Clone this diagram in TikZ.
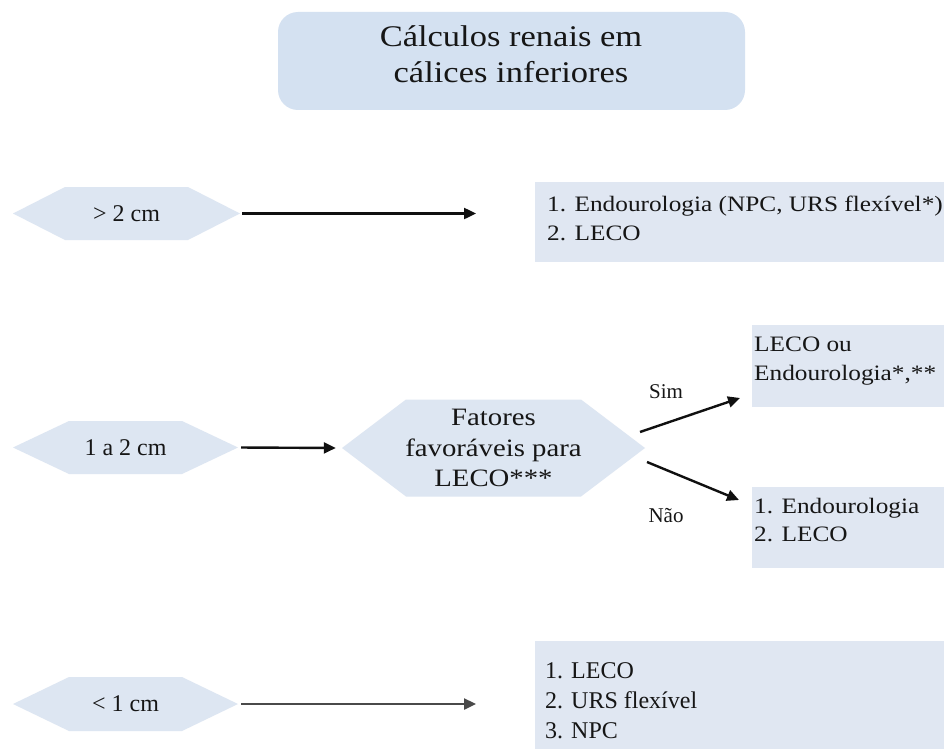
\documentclass[tikz,border=0pt]{standalone}
\usepackage{fontspec}
\setmainfont{Liberation Serif}
\newfontfamily\wideserif[FakeStretch=1.15]{Liberation Serif}
\usetikzlibrary{arrows.meta}
\definecolor{titlefill}{HTML}{D4E1F1}
\definecolor{hexfill}{HTML}{DDE6F2}
\definecolor{boxfill}{HTML}{E0E7F2}
\definecolor{txtc}{HTML}{161616}
\definecolor{arrc}{HTML}{101010}
\definecolor{arrgray}{HTML}{4A4A4A}
\tikzset{
  arr/.style={line width=2.4pt, draw=arrc, -{Triangle[length=12pt,width=11pt]}},
  hexbox/.style={inner sep=0pt, text=txtc, align=center,
    path picture={\fill[hexfill] (path picture bounding box.west)
      -- ([xshift=#1]path picture bounding box.north west)
      -- ([xshift=-#1]path picture bounding box.north east)
      -- (path picture bounding box.east)
      -- ([xshift=-#1]path picture bounding box.south east)
      -- ([xshift=#1]path picture bounding box.south west) -- cycle;}},
  smallhex/.style={font=\fontsize{24}{28}\selectfont},
  panel/.style={fill=boxfill, inner sep=0pt, anchor=north west},
  listwide/.style={anchor=north west, align=left, inner sep=0pt, text=txtc,
    font=\wideserif\fontsize{22}{28.5}\selectfont},
  listplain/.style={anchor=north west, align=left, inner sep=0pt, text=txtc,
    font=\fontsize{24}{30}\selectfont},
  yesno/.style={anchor=base, inner sep=0pt, text=txtc, font=\fontsize{21}{24}\selectfont},
}
\begin{document}
\begin{tikzpicture}[x=1pt,y=-1pt]
\useasboundingbox (0,0) rectangle (944,749);
\fill[white] (0,0) rectangle (944,749);

% title
\node[fill=titlefill, rounded corners=20pt, minimum width=467pt, minimum height=98pt, inner sep=0pt] (title) at (511.5,61) {};
\node[align=center, inner sep=0pt, text=txtc, font=\wideserif\fontsize{30}{36}\selectfont] (titletext) at (511,54) {Cálculos renais em\\cálices inferiores};

% row 1
\node[hexbox=52pt, smallhex, minimum width=227pt, minimum height=53pt] (hex1) at (126.5,213.5) {> 2 cm};
\coordinate (a1end) at (476,213.5);
\draw[arr] ([xshift=2pt]hex1.east) -- (a1end);
\node[panel, minimum width=409pt, minimum height=80pt] (box1) at (535,182) {};
\node[listwide] (box1text) at (547,196) {1. Endourologia (NPC, URS flexível*)\\2. LECO};

% row 2
\node[hexbox=56pt, smallhex, minimum width=225pt, minimum height=53pt] (hex2) at (125.5,447.5) {1 a 2 cm};
\node[hexbox=64pt, minimum width=303pt, minimum height=97pt, font=\wideserif\fontsize{25}{30.5}\selectfont] (hex3) at (493.5,448) {Fatores\\favoráveis para\\LECO***};
\draw[arr, shorten <=3pt, shorten >=6pt] (hex2.east) -- (hex3.west);

\node[panel, minimum width=192pt, minimum height=82pt] (boxsim) at (752,325) {};
\node[listwide] (boxsimtext) at (754,337) {LECO ou\\Endourologia*,**};
\node[panel, minimum width=192pt, minimum height=81pt] (boxnao) at (752,487) {};
\node[listwide] (boxnaotext) at (754,498) {1. Endourologia\\2. LECO};

\coordinate (simstart) at (640,432);
\coordinate (simend) at (740,398);
\coordinate (naostart) at (647,462);
\coordinate (naoend) at (739,500);
\draw[arr] (simstart) -- (simend);
\draw[arr] (naostart) -- (naoend);
\node[yesno] (sim) at (666,398) {Sim};
\node[yesno] (nao) at (666,522) {Não};

% row 3
\node[hexbox=56pt, smallhex, minimum width=225pt, minimum height=54pt] (hex4) at (125.5,704) {< 1 cm};
\coordinate (a4end) at (476,704);
\draw[arr, draw=arrgray] ([xshift=3pt]hex4.east) -- (a4end);
\node[panel, minimum width=409pt, minimum height=108pt] (box4) at (535,641) {};
\node[listplain] (box4text) at (545,662) {1. LECO\\2. URS flexível\\3. NPC};
\end{tikzpicture}
\end{document}
